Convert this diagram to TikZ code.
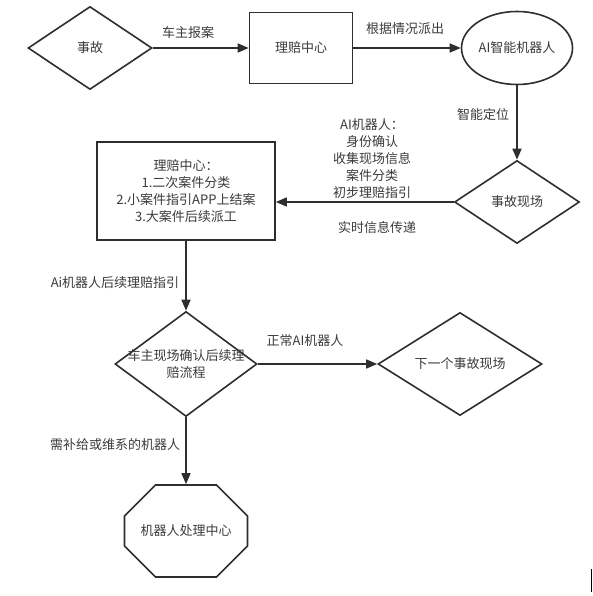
\documentclass[tikz,border=0pt]{standalone}
\usepackage{fontspec}
\setmainfont{Noto Sans CJK SC}
\usetikzlibrary{shapes.geometric,shapes.misc,arrows.meta}
\definecolor{linegray}{HTML}{2E2E2E}
\definecolor{textgray}{HTML}{3A3A3A}
\begin{document}
\begin{tikzpicture}[x=1pt,y=-1pt,
 every node/.style={font=\fontsize{13}{17}\selectfont,text=textgray},
 shapeline/.style={draw=linegray,line width=1.6pt},
 decision/.style={shapeline,diamond,inner sep=0pt},
 flow/.style={draw=linegray,line width=1.6pt,-{Triangle[length=11pt,width=9pt]}},
 note/.style={align=center,inner sep=0pt}]
 \useasboundingbox (0,0) rectangle (592,596);
 \node[decision,minimum width=124pt,minimum height=83pt] (accident) at (90,48) {事故};
 \node[shapeline,rectangle,minimum width=103pt,minimum height=71pt] (claimcenter) at (301,48) {理赔中心};
 \node[shapeline,ellipse,inner sep=0pt,minimum width=111pt,minimum height=73pt] (robot) at (517,48) {AI智能机器人};
 \node[decision,minimum width=125pt,minimum height=83pt] (scene) at (517,202) {事故现场};
 \node[shapeline,rectangle,align=center,minimum width=178pt,minimum height=98pt] (triage) at (186,191) {理赔中心：\\1.二次案件分类\\2.小案件指引APP上结案\\3.大案件后续派工};
 \node[decision,minimum width=142pt,minimum height=105pt,label={[note]center:车主现场确认后续理\\赔流程}] (confirm) at (186,364) {};
 \node[decision,minimum width=164pt,minimum height=98pt] (nextscene) at (460,364) {下一个事故现场};
 \node[shapeline,chamfered rectangle,chamfered rectangle xsep=27pt,chamfered rectangle ysep=25pt,inner sep=0pt,minimum width=123pt,minimum height=92pt] (repair) at (186,531) {机器人处理中心};
 \draw[flow] (accident) -- (claimcenter);
 \draw[flow] (claimcenter) -- (robot);
 \draw[flow] (robot) -- (scene);
 \draw[flow] (scene.west) -- (scene.west -| triage.east);
 \draw[flow] (triage) -- (confirm);
 \draw[flow] (confirm) -- (nextscene);
 \draw[flow] (confirm) -- (repair);
 \node (reportlbl) at (188,33) {车主报案};
 \node (dispatchlbl) at (405,29) {根据情况派出};
 \node (locatelbl) at (483,115) {智能定位};
 \node[note] (robotlbl) at (372,159) {AI机器人：\\身份确认\\收集现场信息\\案件分类\\初步理赔指引};
 \node (synclbl) at (377,228) {实时信息传递};
 \node (guidelbl) at (115,283) {Ai机器人后续理赔指引};
 \node (normallbl) at (305,341) {正常AI机器人};
 \node (repairlbl) at (115,445) {需补给或维系的机器人};
 \draw[line width=1pt] (591.5,569) -- (591.5,592);
\end{tikzpicture}
\end{document}
